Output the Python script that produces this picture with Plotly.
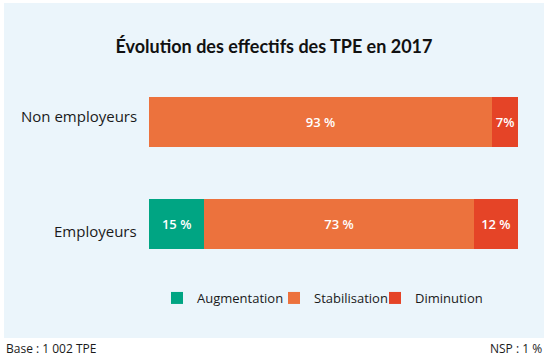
import plotly.graph_objects as go

categories = ["Non employeurs", "Employeurs"]
series_names = ["Augmentation", "Stabilisation", "Diminution"]
augmentation = [None, 15]
stabilisation = [93, 73]
diminution = [7, 12]
labels_aug = ["", "15 %"]
labels_stab = ["93 %", "73 %"]
labels_dim = ["7%", "12 %"]
colors = ["#00A583", "#EC723D", "#E54427"]
label_shifts = [6, -7]

title_text = "Évolution des effectifs des TPE en 2017"
footer_left = "Base : 1 002 TPE"
footer_right = "NSP : 1 %"

TFONT = "Lato"
FONT = "Open Sans"

legend_ids = ["legend", "legend2", "legend3"]
legend_px = [157, 274, 375]

fig = go.Figure()
for name, vals, labs, col, lid in zip(series_names,
                                      [augmentation, stabilisation, diminution],
                                      [labels_aug, labels_stab, labels_dim],
                                      colors, legend_ids):
    fig.add_trace(go.Bar(
        y=categories, x=vals, name=name, orientation="h",
        marker=dict(color=col, line=dict(width=0)),
        text=labs, textposition="inside", insidetextanchor="middle",
        textfont=dict(color="white", size=13, family=FONT, weight=600),
        hoverinfo="skip", legend=lid,
    ))

W, H = 548, 359
ml, mr, mt, mb = 149, 30, 71, 84
pw = W - ml - mr
ph = H - mt - mb

def px_x(x):
    return (x - ml) / pw

def px_y(y):
    return (H - mb - y) / ph

annotations = [
    dict(text=footer_left, xref="paper", yref="paper", x=px_x(4), y=px_y(348),
         xanchor="left", yanchor="middle", showarrow=False,
         font=dict(size=12, family=FONT, color="#1a1a1a")),
    dict(text=footer_right, xref="paper", yref="paper", x=px_x(544), y=px_y(348),
         xanchor="right", yanchor="middle", showarrow=False,
         font=dict(size=12, family=FONT, color="#1a1a1a")),
]
for cat, ys in zip(categories, label_shifts):
    annotations.append(dict(text=cat, xref="x", yref="y", x=0, y=cat,
                            xanchor="right", yanchor="middle", xshift=-10,
                            yshift=ys, showarrow=False,
                            font=dict(size=15, family=FONT, color="#1a1a1a")))

legends = {}
for lid, lx in zip(legend_ids, legend_px):
    legends[lid] = dict(orientation="h", x=px_x(lx), xanchor="left",
                        y=px_y(298), yanchor="middle",
                        font=dict(size=13, family=FONT, color="#1a1a1a"),
                        bgcolor="rgba(0,0,0,0)", itemwidth=30)

fig.update_layout(
    width=W, height=H,
    barmode="stack", bargap=1 - 50 / 102,
    margin=dict(l=ml, r=mr, t=mt, b=mb, pad=0),
    paper_bgcolor="white", plot_bgcolor="rgba(0,0,0,0)",
    font=dict(family=FONT, color="#1a1a1a"),
    title=dict(text=title_text, x=0.5, xref="container", xanchor="center",
               y=1 - 47 / H, yref="container", yanchor="middle",
               font=dict(size=18, family=TFONT, weight="bold", color="#111")),
    xaxis=dict(range=[0, 100], visible=False, fixedrange=True),
    yaxis=dict(autorange="reversed", showgrid=False, zeroline=False,
               showline=False, ticks="", showticklabels=False, fixedrange=True),
    showlegend=True,
    shapes=[dict(type="rect", xref="paper", yref="paper",
                 x0=px_x(4), x1=px_x(544), y0=px_y(338), y1=px_y(3),
                 fillcolor="#EBF5FB", line=dict(width=0), layer="below")],
    annotations=annotations,
    **legends,
)

fig.write_html("out.html", config={"displayModeBar": False},
               post_script="document.body.style.margin='0';document.body.style.padding='0';")
